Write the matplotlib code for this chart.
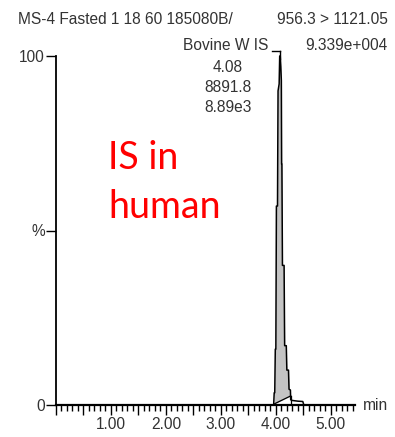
import numpy as np
import matplotlib
matplotlib.use("Agg")
import matplotlib.pyplot as plt
from matplotlib.ticker import MultipleLocator, FixedLocator

# chromatogram trace (retention time in min, relative intensity in %)
times = [0.00, 3.96, 3.97, 3.98, 3.99, 4.00, 4.01, 4.03, 4.04, 4.06, 4.07, 4.08,
         4.09, 4.10, 4.105, 4.11, 4.12, 4.15, 4.16, 4.19, 4.20, 4.23, 4.24,
         4.265, 4.27, 4.30, 4.40, 4.49, 4.51, 5.44]
intensity = [0, 0, 3.5, 3.5, 16, 16, 57, 57, 90, 92, 100, 100,
             97, 93, 69, 69, 40, 40, 17, 17, 10, 10, 4.5,
             4.3, 1.5, 1.3, 1.1, 1.0, 0, 0]

# integration window and its baseline end points
peak_start, peak_end = 3.97, 4.27
base_start, base_end = 0.3, 2.6

x_labels = ["1.00", "2.00", "3.00", "4.00", "5.00"]
x_label_pos = [1, 2, 3, 4, 5]

header_left = "MS-4 Fasted 1 18 60 185080B/"
header_right = ["956.3 > 1121.05", "9.339e+004"]
peak_name = "Bovine W IS"
peak_info = ["4.08", "8891.8", "8.89e3"]

plt.rcParams["font.family"] = ["Liberation Sans", "DejaVu Sans"]

fig = plt.figure(figsize=(3.95, 4.37), dpi=100)
ax = fig.add_axes([56 / 395, 32 / 437, 299 / 395, 349 / 437])

t = np.array(times)
y = np.array(intensity)

# shaded integrated area above the drawn baseline
mask = (t >= peak_start) & (t <= peak_end)
tp = t[mask]
yp = y[mask]
bp = np.interp(tp, [peak_start, peak_end], [base_start, base_end])
ax.fill_between(tp, bp, yp, color="#c4c4c4", lw=0, clip_on=False)

ax.plot(t, y, color="black", lw=1.1, clip_on=False)
ax.plot([peak_start, peak_end], [base_start, base_end], color="black", lw=0.9)
ax.plot([peak_end, peak_end], [0, base_end], color="black", lw=0.9)

ax.set_xlim(0, 5.44)
ax.set_ylim(0, 100)
for s in ["top", "right"]:
    ax.spines[s].set_visible(False)
ax.spines["left"].set_linewidth(1.3)
ax.spines["bottom"].set_linewidth(1.6)

ax.xaxis.set_major_locator(MultipleLocator(0.5))
ax.xaxis.set_minor_locator(MultipleLocator(0.1))
ax.set_xticklabels([])
ax.tick_params(axis="x", which="major", length=7, width=1, color="black")
ax.tick_params(axis="x", which="minor", length=4, width=1, color="black")
for pos, lab in zip(x_label_pos, x_labels):
    ax.text(pos, -5.6, lab, ha="center", va="center", fontsize=11.2, color="#333333")
ax.text(5.58, 0, "min", ha="left", va="center", fontsize=11.2, color="#333333")

ax.yaxis.set_major_locator(FixedLocator([0, 50, 100]))
ax.set_yticklabels(["0", "%", "100"])
ax.tick_params(axis="y", length=7, width=1, pad=1, labelsize=11.2, labelcolor="#333333")

# header texts
fig.text(18 / 395, 1 - 19 / 437, header_left, ha="left", va="center",
         fontsize=11.2, color="#333333")
fig.text(388 / 395, 1 - 19 / 437, header_right[0], ha="right", va="center",
         fontsize=11.2, color="#333333")
fig.text(388 / 395, 1 - 45 / 437, header_right[1], ha="right", va="center",
         fontsize=11.2, color="#333333")

# peak annotation
fig.text(268 / 395, 1 - 45 / 437, peak_name, ha="right", va="center",
         fontsize=11.2, color="#333333")
ax.plot([3.93, 4.08], [101.5, 101.5], color="black", lw=1, clip_on=False)
ax.plot([4.08, 4.08], [101.5, 99], color="black", lw=1, clip_on=False)
for i, line in enumerate(peak_info):
    fig.text(228 / 395, 1 - (67 + 20 * i) / 437, line, ha="center", va="center",
             fontsize=11.2, color="#333333")

# sample note in red
fig.text(108 / 395, 1 - 158 / 437, "IS in", ha="left", va="center",
         fontsize=27, color="#ff0000", family=["Lato", "DejaVu Sans"])
fig.text(108 / 395, 1 - 207 / 437, "human", ha="left", va="center",
         fontsize=27, color="#ff0000", family=["Lato", "DejaVu Sans"])

fig.savefig("out.png", dpi=100)
